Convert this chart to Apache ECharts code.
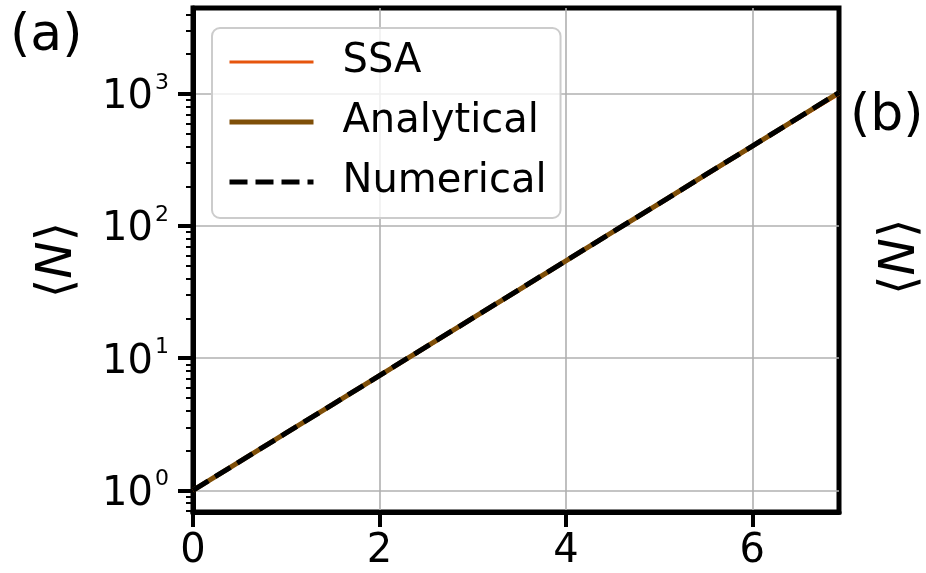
<!DOCTYPE html>
<html><head><meta charset="utf-8">
<script src="https://cdn.jsdelivr.net/npm/echarts@6/dist/echarts.min.js"></script>
<style>html,body{margin:0;padding:0;background:#fff}#c{width:926px;height:573px}</style>
</head><body><div id="c"></div>
<script>
// ---- data ----
const times = [0, 0.5, 1, 1.5, 2, 2.5, 3, 3.5, 4, 4.5, 5, 5.5, 6, 6.5, 6.93];
const ssaValues = [1, 1.64, 2.7, 4.45, 7.3, 12.0, 19.8, 32.6, 54, 89, 146, 241, 397, 652, 995];
const analyticalValues = [1, 1.65, 2.72, 4.48, 7.39, 12.2, 20.1, 33.1, 54.6, 90, 148, 245, 403, 665, 1024];
const numericalValues = [1, 1.65, 2.72, 4.48, 7.39, 12.2, 20.1, 33.1, 54.6, 90, 148, 245, 403, 665, 1024];
const seriesNames = ['SSA', 'Analytical', 'Numerical'];
const xTickValues = [0, 2, 4, 6];
const yMajorTicks = [1, 10, 100, 1000];
const yMinorTicks = [0.7, 0.8, 0.9, 2, 3, 4, 5, 6, 7, 8, 9, 20, 30, 40, 50, 60, 70, 80, 90,
  200, 300, 400, 500, 600, 700, 800, 900, 2000, 3000, 4000];
const xRange = [0, 6.93];
const yRange = [0.686, 4470];

const pair = vals => times.map((t, i) => [t, vals[i]]);
const FONT = 'DejaVu Sans';
const COLORS = ['#e6550d', '#7f4f08', '#000000'];
const WIDTHS = [3, 5, 5];
const DASH = [18, 8];

const chart = echarts.init(document.getElementById('c'), null, {renderer: 'canvas'});
const option = {
  backgroundColor: '#ffffff',
  animation: false,
  textStyle: {fontFamily: FONT},
  grid: {left: 193, right: 87, top: 8, bottom: 61, show: true, borderColor: '#000', borderWidth: 5, backgroundColor: 'transparent'},
  xAxis: {
    type: 'value', min: xRange[0], max: xRange[1],
    axisLine: {show: true, lineStyle: {color: '#000', width: 5}},
    axisTick: {show: true, length: 15, lineStyle: {color: '#000', width: 4}, customValues: xTickValues},
    axisLabel: {customValues: xTickValues, fontFamily: FONT, fontSize: 40, color: '#000', margin: 20},
    splitLine: {show: true, lineStyle: {color: '#b0b0b0', width: 1.6}}
  },
  yAxis: [{
    type: 'log', logBase: 10, min: yRange[0], max: yRange[1],
    name: '{r|⟨}{i|N}{r|⟩}', nameLocation: 'middle', nameRotate: 90, nameGap: 110,
    nameTextStyle: {rich: {r: {fontFamily: FONT, fontSize: 50, color: '#000'}, i: {fontFamily: FONT, fontStyle: 'italic', fontSize: 50, color: '#000'}}},
    axisLine: {show: true, lineStyle: {color: '#000', width: 5}},
    axisTick: {show: true, length: 15, lineStyle: {color: '#000', width: 4}, customValues: yMajorTicks},
    axisLabel: {
      customValues: yMajorTicks, margin: 24,
      formatter: v => '{b|10}{s|' + Math.round(Math.log10(v)) + '}',
      rich: {
        b: {fontFamily: FONT, fontSize: 40, color: '#000', lineHeight: 48, verticalAlign: 'bottom'},
        s: {fontFamily: FONT, fontSize: 22, color: '#000', lineHeight: 48, verticalAlign: 'top', padding: [2, 0, 0, 2]}
      }
    },
    splitLine: {show: true, lineStyle: {color: '#b0b0b0', width: 1.6}}
  }, {
    type: 'log', logBase: 10, min: yRange[0], max: yRange[1], position: 'left',
    axisLine: {show: false},
    axisTick: {show: true, length: 7, lineStyle: {color: '#000', width: 2}, customValues: yMinorTicks},
    axisLabel: {show: false},
    splitLine: {show: false}
  }],
  legend: {
    left: 212, top: 28, orient: 'vertical', selectedMode: false,
    data: seriesNames.map((n, i) => ({
      name: n,
      itemStyle: {opacity: 0},
      lineStyle: {width: WIDTHS[i], color: COLORS[i], type: i === 2 ? DASH : 'solid'}
    })),
    itemWidth: 84, itemHeight: 14, itemGap: 20,
    padding: [14, 14, 16, 15],
    backgroundColor: 'rgba(255,255,255,0.8)', borderColor: '#cccccc', borderWidth: 2, borderRadius: 8,
    textStyle: {fontFamily: FONT, fontSize: 40, color: '#000', lineHeight: 40, padding: [0, 0, 0, 24]}
  },
  series: [
    {name: seriesNames[0], type: 'line', data: pair(ssaValues), yAxisIndex: 0, showSymbol: false, symbol: 'none',
      lineStyle: {color: COLORS[0], width: WIDTHS[0]}, itemStyle: {color: COLORS[0]}},
    {name: seriesNames[1], type: 'line', data: pair(analyticalValues), yAxisIndex: 0, showSymbol: false, symbol: 'none',
      lineStyle: {color: COLORS[1], width: WIDTHS[1]}, itemStyle: {color: COLORS[1]}},
    {name: seriesNames[2], type: 'line', data: pair(numericalValues), yAxisIndex: 0, showSymbol: false, symbol: 'none',
      lineStyle: {color: COLORS[2], width: WIDTHS[2], type: DASH}, itemStyle: {color: COLORS[2]}}
  ],
  graphic: [
    {type: 'text', left: 10, top: 10, style: {text: '(a)', font: '52px "DejaVu Sans"', fill: '#000'}},
    {type: 'text', left: 850, top: 90, style: {text: '(b)', font: '52px "DejaVu Sans"', fill: '#000'}},
    {type: 'text', x: 876, y: 295, rotation: Math.PI / 2,
      style: {text: '{r|⟨}{i|N}{r|⟩}', rich: {r: {fontFamily: FONT, fontSize: 50, fill: '#000'}, i: {fontFamily: FONT, fontStyle: 'italic', fontSize: 50, fill: '#000'}}}}
  ]
};
chart.setOption(option);
</script></body></html>
